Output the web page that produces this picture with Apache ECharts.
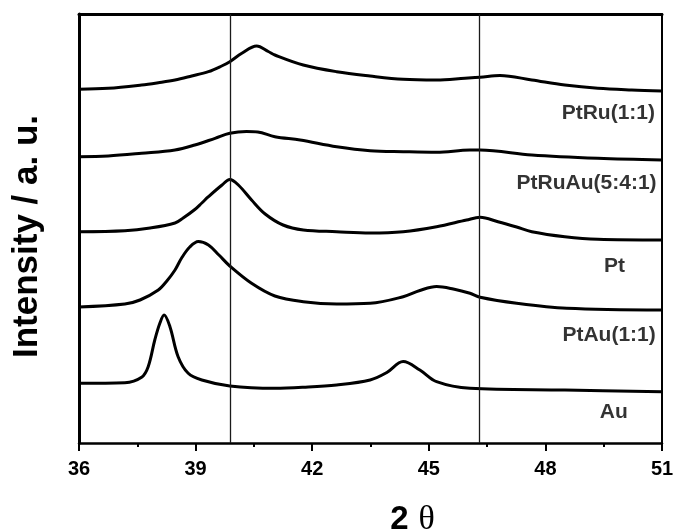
<!DOCTYPE html>
<html>
<head>
<meta charset="utf-8">
<script src="https://cdn.jsdelivr.net/npm/echarts@6/dist/echarts.min.js"></script>
<style>
  html, body { margin: 0; padding: 0; background: #fff; }
  #chart { width: 673px; height: 530px; }
</style>
</head>
<body>
<div id="chart"></div>
<script>
// XRD patterns, stacked with offsets; each point is [2θ (deg), intensity (a.u.)]
const ptRu = [
  [36.00, 353.7], [36.75, 354.7], [37.61, 358.0], [38.04, 360.3], [38.47, 363.0],
  [38.90, 367.0], [39.33, 371.3], [39.67, 377.0], [39.88, 381.3], [40.19, 389.7],
  [40.57, 397.0], [40.87, 391.5], [41.04, 388.0], [41.77, 378.0], [42.63, 371.3],
  [43.49, 367.0], [44.34, 363.7], [45.20, 363.0], [45.93, 364.7], [46.32, 365.7],
  [46.83, 367.5], [47.65, 363.0], [48.50, 358.0], [49.35, 354.7], [50.22, 353.0],
  [51.00, 352.0]
];
const ptRuAu = [
  [36.00, 286.3], [36.75, 287.0], [37.61, 289.7], [38.47, 293.0], [38.98, 298.0],
  [39.50, 304.7], [39.88, 309.7], [40.31, 311.5], [40.60, 311.0], [41.04, 306.3],
  [41.69, 303.0], [42.63, 296.3], [43.49, 292.3], [44.34, 291.3], [45.20, 290.7],
  [46.06, 293.0], [46.32, 293.0], [47.65, 288.0], [49.35, 284.7], [51.00, 283.0]
];
const pt = [
  [36.00, 211.3], [37.18, 212.3], [37.83, 215.0], [38.47, 220.0], [38.68, 225.0],
  [38.98, 233.5], [39.16, 240.0], [39.33, 246.3], [39.68, 258.0], [39.88, 263.5],
  [40.10, 258.0], [40.44, 243.0], [40.79, 229.0], [41.25, 218.0], [41.77, 213.0],
  [42.63, 211.3], [43.49, 210.0], [44.34, 211.3], [45.20, 216.3], [45.97, 223.0],
  [46.32, 225.7], [46.78, 221.3], [47.26, 216.0], [47.65, 211.3], [48.50, 206.3],
  [49.35, 203.7], [51.00, 203.0]
];
const ptAu = [
  [36.00, 136.0], [37.18, 139.0], [37.57, 143.0], [38.04, 153.0], [38.26, 162.0],
  [38.47, 173.0], [38.64, 185.0], [38.85, 196.0], [39.07, 201.5], [39.33, 198.0],
  [39.60, 188.0], [39.88, 177.0], [40.44, 159.7], [41.04, 147.0], [41.77, 141.3],
  [42.63, 139.0], [43.49, 139.7], [44.34, 146.3], [44.77, 152.5], [45.20, 156.5],
  [45.63, 154.0], [46.06, 149.7], [46.32, 145.7], [47.26, 139.7], [48.55, 134.7],
  [51.00, 133.0]
];
const au = [
  [36.00, 59.7], [37.18, 60.3], [37.61, 65.7], [37.78, 76.3], [37.95, 103.0],
  [38.08, 119.7], [38.19, 128.0], [38.34, 116.3], [38.55, 86.3], [38.81, 69.7],
  [39.16, 63.0], [39.88, 57.0], [41.04, 54.7], [41.77, 55.7], [42.63, 58.0],
  [43.49, 63.0], [43.92, 70.5], [44.34, 81.5], [44.77, 73.0], [45.20, 61.3],
  [46.06, 54.7], [48.50, 53.0], [51.00, 51.3]
];

// reference positions of the Pt reflections (deg)
const refLines = [39.88, 46.31];

// sample names and where each name sits: [2θ of right edge, intensity]
const sampleNames = ['PtRu(1:1)', 'PtRuAu(5:4:1)', 'Pt', 'PtAu(1:1)', 'Au'];
const namePos = [[50.82, 330], [50.86, 260], [50.05, 177], [50.84, 108], [50.12, 31]];

const xTicks = [36, 39, 42, 45, 48, 51];

const chart = echarts.init(document.getElementById('chart'), null, { renderer: 'canvas' });

const font = 'Liberation Sans, Arial, sans-serif';

function curve(name, data, withLines) {
  const s = {
    name: name,
    type: 'line',
    data: data,
    showSymbol: false,
    smooth: 0.35,
    lineStyle: { color: '#000', width: 3 },
    silent: true,
    z: 3
  };
  if (withLines) {
    s.markLine = {
      silent: true,
      symbol: 'none',
      label: { show: false },
      lineStyle: { color: '#1a1a1a', width: 1.3, type: 'solid' },
      data: refLines.map(v => ({ xAxis: v }))
    };
  }
  return s;
}

chart.setOption({
  animation: false,
  backgroundColor: '#fff',
  grid: { left: 79, right: 11, top: 14, bottom: 87, outerBoundsMode: 'none', containLabel: false },
  xAxis: [{
    type: 'value',
    min: 36, max: 51, interval: 3,
    position: 'bottom',
    axisLine: { show: true, onZero: false, lineStyle: { color: '#000', width: 2.5 } },
    axisTick: { show: true, inside: false, length: 8, lineStyle: { color: '#000', width: 2 } },
    minorTick: { show: true, splitNumber: 2, length: 4, lineStyle: { color: '#000', width: 2 } },
    splitLine: { show: false },
    axisLabel: {
      color: '#000', fontFamily: font, fontWeight: 'bold', fontSize: 20, margin: 16,
      formatter: v => xTicks.includes(v) ? String(v) : ''
    },
    name: '{a|2}{b|θ}',
    nameLocation: 'middle',
    nameGap: 60,
    nameTextStyle: {
      padding: [0, 0, 0, 84],
      rich: {
        a: { fontFamily: font, fontWeight: 'bold', fontSize: 33, color: '#000' },
        b: { fontFamily: 'Liberation Serif, DejaVu Serif, serif', fontSize: 34, color: '#000', padding: [0, 0, 0, 10] }
      }
    }
  }, {
    type: 'value',
    min: 36, max: 51,
    position: 'top',
    axisLine: { show: true, onZero: false, lineStyle: { color: '#000', width: 3 } },
    axisTick: { show: false },
    axisLabel: { show: false },
    splitLine: { show: false }
  }],
  yAxis: [{
    type: 'value',
    min: 0, max: 429,
    position: 'left',
    axisLine: { show: true, onZero: false, lineStyle: { color: '#000', width: 3 } },
    axisTick: { show: false },
    axisLabel: { show: false },
    splitLine: { show: false },
    name: 'Intensity / a. u.',
    nameLocation: 'middle',
    nameGap: 34,
    nameTextStyle: { color: '#000', fontFamily: font, fontWeight: 'bold', fontSize: 35, padding: [0, 16, 0, 0] }
  }, {
    type: 'value',
    min: 0, max: 429,
    position: 'right',
    axisLine: { show: true, onZero: false, lineStyle: { color: '#000', width: 2 } },
    axisTick: { show: false },
    axisLabel: { show: false },
    splitLine: { show: false }
  }],
  series: [
    curve('PtRu(1:1)', ptRu, true),
    curve('PtRuAu(5:4:1)', ptRuAu, false),
    curve('Pt', pt, false),
    curve('PtAu(1:1)', ptAu, false),
    curve('Au', au, false),
    {
      name: 'sample names',
      type: 'scatter',
      symbolSize: 0,
      silent: true,
      data: sampleNames.map((n, i) => ({ name: n, value: namePos[i] })),
      label: {
        show: true,
        position: 'inside',
        align: 'right',
        verticalAlign: 'middle',
        formatter: p => p.name,
        color: '#000',
        fontFamily: font,
        fontWeight: 'bold',
        fontSize: 21
      },
      z: 4
    }
  ]
});
</script>
</body>
</html>
